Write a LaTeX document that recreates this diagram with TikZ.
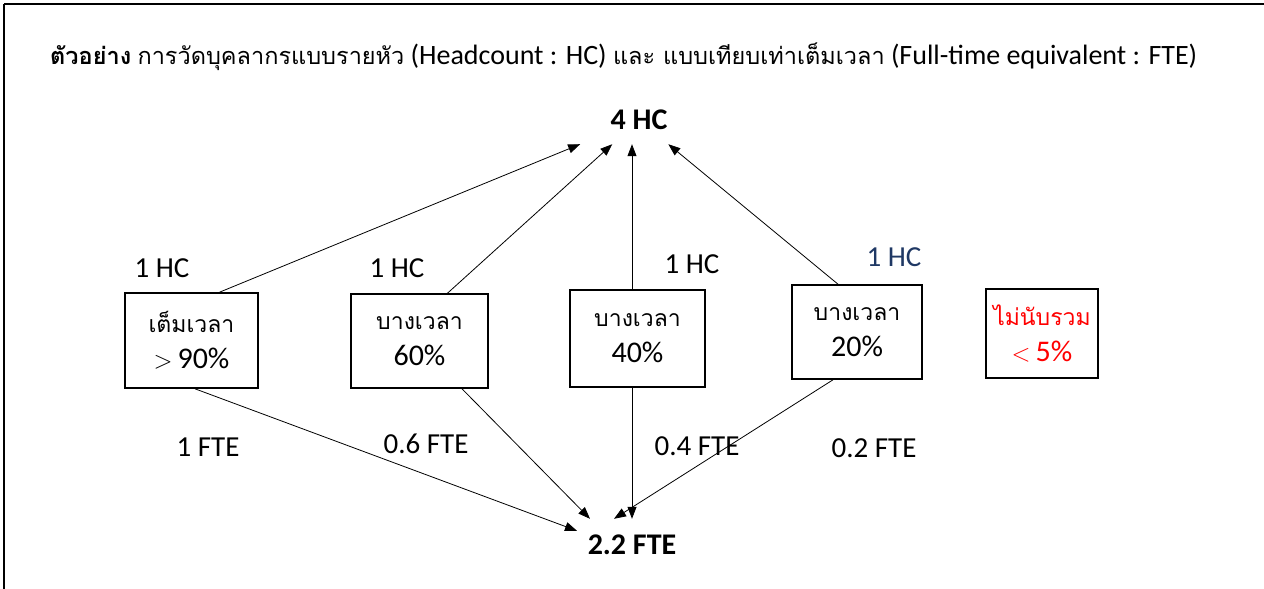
\documentclass[tikz,border=0pt]{standalone}
\usepackage{fontspec}
\setmainfont{Carlito}
\newfontfamily\thaifont[Script=Thai]{Loma}
\usetikzlibrary{arrows.meta, positioning, calc}
\definecolor{hcblue}{RGB}{31,56,100}
\definecolor{exred}{RGB}{255,0,0}
\newcommand\thaititle{\thaifont\fontsize{23.5}{30}\selectfont}
\newcommand\thaibox{\thaifont\fontsize{23}{36}\selectfont}

\begin{document}
\begin{tikzpicture}[x=1pt, y=-1pt,
  share/.style={rectangle, draw=black, line width=1.6pt, align=center, inner sep=0pt,
    font=\fontsize{30}{36}\selectfont},
  total/.style={rectangle, inner sep=0pt, font=\fontsize{30}{32}\selectfont\bfseries},
  count/.style={font=\fontsize{29}{32}\selectfont, inner sep=0pt},
  arrow/.style={-{Triangle[length=12pt, width=9pt]}, line width=0.8pt}
]

% --- Rahmen und Bildgrenzen ---
\useasboundingbox (0,0) rectangle (1264,589);
\coordinate (frametl) at (4,4);
\draw[line width=1.6pt] (frametl) -- (4,589);
\draw[line width=1.6pt] (frametl) -- (1264,4);

% --- Titel ---
\node[anchor=base west, inner sep=0pt, font=\fontsize{28}{30}\selectfont] (title) at (50,64)
  {{\thaititle\bfseries ตัวอย่าง} {\thaititle การวัดบุคลากรแบบรายหัว} (Headcount : HC) {\thaititle และ แบบเทียบเท่าเต็มเวลา} (Full-time equivalent : FTE)};

% --- Summen oben und unten ---
\node[total, minimum width=130, minimum height=48] (hc) at (639,120) {4 HC};
\node[total, minimum width=110, minimum height=52] (fte) at (632,545) {2.2 FTE};

% --- Beschaeftigte ---
\node[share, minimum width=133, minimum height=95] (full)   at (191.5,340.5) {{\thaibox เต็มเวลา}\\ $>$\,90\%};
\node[share, minimum width=137, minimum height=94] (part60) at (419.5,341)   {{\thaibox บางเวลา}\\ 60\%};
\node[share, minimum width=135, minimum height=97] (part40) at (637.5,338.5) {{\thaibox บางเวลา}\\ 40\%};
\node[share, minimum width=130, minimum height=94] (part20) at (857,332)     {{\thaibox บางเวลา}\\ 20\%};
\node[share, minimum width=112, minimum height=89, text=exred] (excl) at (1042,333.5) {{\thaibox ไม่นับรวม}\\ $<$\,5\%};

% --- Beschriftungen HC / FTE ---
\node[count] (hcfull)   at (162,268) {1 HC};
\node[count] (hcpart60) at (397,268) {1 HC};
\node[count] (hcpart40) at (692,264) {1 HC};
\node[count, text=hcblue] (hcpart20) at (894,257) {1 HC};

\node[count] (ftefull)   at (208,447) {1 FTE};
\node[count] (ftepart60) at (426,444) {0.6 FTE};
\node[count] (ftepart40) at (697,446) {0.4 FTE};
\node[count] (ftepart20) at (874,448) {0.2 FTE};

% Verbindungen nach oben
\draw[arrow] ([xshift=28]full.north) -- (hc);
\draw[arrow] ([xshift=28]part60.north) -- (hc);
\draw[arrow] ([xshift=-5.5]part40.north) -- ([xshift=-7]hc.south);
\draw[arrow] ([xshift=-19]part20.north) -- (hc);

% Verbindungen nach unten
\draw[arrow] ([xshift=3.5]full.south) -- ([xshift=-55, yshift=-12]fte.north);
\draw[arrow] ([xshift=42.5]part60.south) -- ([xshift=-42]fte.north);
\draw[arrow] ([xshift=-5.5]part40.south) -- (fte.north);
\draw[arrow] ([xshift=-24]part20.south) -- ([xshift=-18]fte.north);
\end{tikzpicture}
\end{document}
